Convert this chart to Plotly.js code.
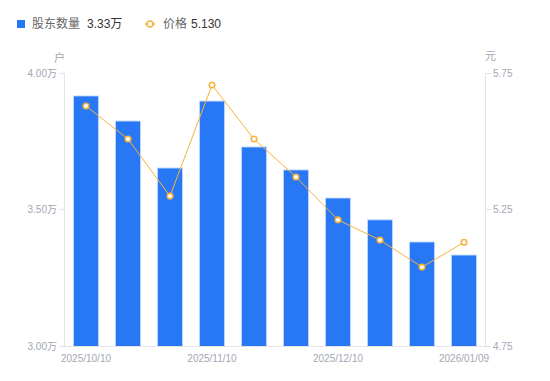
<!DOCTYPE html>
<html>
<head>
<meta charset="utf-8">
<script src="https://cdn.plot.ly/plotly-3.0.1.min.js"></script>
<style>html,body{margin:0;padding:0;background:#fff;}#chart{width:550px;height:381px;}</style>
</head>
<body>
<div id="chart"></div>
<script>
const dates = ["2025/10/10","2025/10/20","2025/10/31","2025/11/10","2025/11/20","2025/11/28","2025/12/10","2025/12/19","2025/12/31","2026/01/09"];
const holders = [3.916, 3.824, 3.652, 3.897, 3.729, 3.645, 3.542, 3.462, 3.381, 3.333];
const prices = [5.629, 5.508, 5.299, 5.706, 5.508, 5.369, 5.212, 5.138, 5.039, 5.130];
const xTickLabels = ["2025/10/10","2025/11/10","2025/12/10","2026/01/09"];
const leftTicks = [3.0, 3.5, 4.0];
const leftTickText = ["3.00万","3.50万","4.00万"];
const rightTicks = [4.75, 5.25, 5.75];
const rightTickText = ["4.75","5.25","5.75"];
const seriesNames = ["股东数量", "价格"];

const font = "'Liberation Sans', Arial, 'Noto Sans CJK SC', sans-serif";
const tickColor = "#a3a7b3";
const lineColor = "#e3e5ea";
const barColor = "#2878f5";
const priceColor = "#f7b23b";

// plot area geometry (pixels) used to place the custom legend
const W = 550, H = 381, L = 65, R = 65, T = 73, B = 35;
const pw = W - L - R, ph = H - T - B;
const px = v => (v - L) / pw;
const py = v => (H - B - v) / ph;

const traces = [
  {
    type: "bar", x: dates, y: holders, yaxis: "y", name: seriesNames[0],
    marker: {color: barColor, line: {color: "rgba(190,215,255,0.9)", width: 1}},
    hoverinfo: "skip"
  },
  {
    type: "scatter", mode: "lines+markers", x: dates, y: prices, yaxis: "y2", name: seriesNames[1],
    line: {color: priceColor, width: 1},
    marker: {symbol: "circle", size: 5.5, color: "#ffffff", line: {color: priceColor, width: 1.6}},
    hoverinfo: "skip"
  }
];

const legY = 24;
const layout = {
  width: W, height: H,
  margin: {l: L, r: R, t: T, b: B},
  paper_bgcolor: "#fff", plot_bgcolor: "#fff",
  font: {family: font, size: 10, color: tickColor},
  bargap: 0.405,
  showlegend: false,
  xaxis: {
    type: "category", range: [-0.5, dates.length - 0.5],
    tickmode: "array", tickvals: xTickLabels, ticktext: xTickLabels,
    showline: true, linecolor: lineColor, linewidth: 1,
    ticks: "", showgrid: false, zeroline: false, ticklabelstandoff: 3,
    tickfont: {family: font, size: 10, color: tickColor}
  },
  yaxis: {
    range: [3.0, 4.0], tickvals: leftTicks, ticktext: leftTickText,
    showline: true, linecolor: lineColor, linewidth: 1,
    ticks: "outside", ticklen: 5, tickcolor: lineColor,
    showgrid: false, zeroline: false,
    tickfont: {family: font, size: 10, color: tickColor}
  },
  yaxis2: {
    overlaying: "y", side: "right",
    range: [4.75, 5.75], tickvals: rightTicks, ticktext: rightTickText,
    showline: true, linecolor: lineColor, linewidth: 1,
    ticks: "outside", ticklen: 5, tickcolor: lineColor,
    showgrid: false, zeroline: false,
    tickfont: {family: font, size: 10, color: tickColor}
  },
  shapes: [
    {type: "rect", xref: "paper", yref: "paper", x0: px(17), x1: px(25), y0: py(20), y1: py(28),
     fillcolor: barColor, line: {width: 0}},
    {type: "line", xref: "paper", yref: "paper", x0: px(145), x1: px(155), y0: py(legY), y1: py(legY),
     line: {color: priceColor, width: 1.5}},
    {type: "circle", xref: "paper", yref: "paper", x0: px(147), x1: px(153), y0: py(legY - 3), y1: py(legY + 3),
     fillcolor: "#fff", line: {color: priceColor, width: 1.6}}
  ],
  annotations: [
    {text: seriesNames[0], xref: "paper", yref: "paper", x: px(30), y: py(legY), xanchor: "left", yanchor: "middle", showarrow: false,
     font: {family: font, size: 12, color: "#666"}},
    {text: holders[holders.length - 1].toFixed(2) + "万", xref: "paper", yref: "paper", x: px(85), y: py(legY), xanchor: "left", yanchor: "middle", showarrow: false,
     font: {family: font, size: 12, color: "#333"}},
    {text: seriesNames[1], xref: "paper", yref: "paper", x: px(161), y: py(legY), xanchor: "left", yanchor: "middle", showarrow: false,
     font: {family: font, size: 12, color: "#666"}},
    {text: prices[prices.length - 1].toFixed(3), xref: "paper", yref: "paper", x: px(189), y: py(legY), xanchor: "left", yanchor: "middle", showarrow: false,
     font: {family: font, size: 12, color: "#333"}},
    {text: "户", xref: "paper", yref: "paper", x: px(59), y: py(57), xanchor: "center", yanchor: "middle", showarrow: false,
     font: {family: font, size: 11, color: tickColor}},
    {text: "元", xref: "paper", yref: "paper", x: px(490), y: py(56), xanchor: "center", yanchor: "middle", showarrow: false,
     font: {family: font, size: 11, color: tickColor}}
  ]
};

Plotly.newPlot("chart", traces, layout, {displayModeBar: false, staticPlot: true});
</script>
</body>
</html>
